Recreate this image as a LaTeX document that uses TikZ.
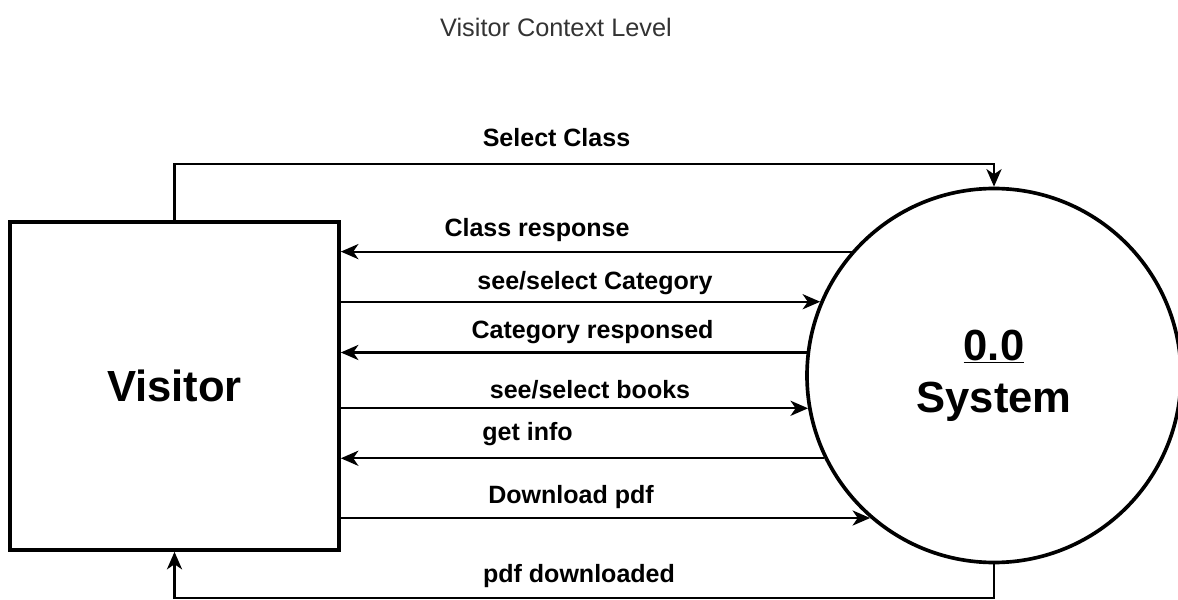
\documentclass[tikz,border=0pt]{standalone}
\usepackage{fontspec}
\setmainfont{Liberation Sans}
\usetikzlibrary{arrows.meta,positioning}

\begin{document}
\begin{tikzpicture}[
  flow/.style={line width=1.5pt,-{Stealth[length=4.4mm,width=3.8mm,inset=1.3mm]}},
  lbl/.style={font=\fontsize{17.8}{20}\selectfont\bfseries,anchor=base,inner sep=0pt}]
\useasboundingbox (0,0) rectangle (29.45,14.975);
\node[font=\fontsize{18}{21}\selectfont,text=black!80,anchor=base,inner sep=0pt] (title) at (13.9,14.07) {Visitor Context Level};
% external entity and process
\node[draw,line width=2.6pt,minimum width=8.225cm,minimum height=8.2cm,font=\fontsize{31}{36}\selectfont\bfseries] (visitor) at (4.3625,5.325) {Visitor};
\node[draw,circle,line width=2.6pt,minimum size=9.35cm,inner sep=0pt,align=center,font=\fontsize{31}{37}\selectfont\bfseries] (sys) at (24.85,5.5875) {\underline{0.0}\\System};
\coordinate (topbend) at (24.85,10.875);
\coordinate (botbend) at (24.85,0.025);
% data flows
\draw[flow] (visitor.north) |- (topbend) -- (sys.north);
\draw[flow] (sys.139.5) -- (sys.139.5 -| visitor.east);
\draw[flow] (visitor.east |- sys.157.5) -- (sys.157.5);
\draw[flow] (sys.173.7) -- (sys.173.7 -| visitor.east);
\draw[flow] (visitor.east |- sys.190.3) -- (sys.190.3);
\draw[flow] (sys.206.2) -- (sys.206.2 -| visitor.east);
\draw[flow] (visitor.east |- sys.229.2) -- (sys.229.2);
\draw[flow] (sys.south) -- (botbend) -| (visitor.south);
% flow labels
\node[lbl] (lselclass) at (13.9125,11.3) {Select Class};
\node[lbl] (lclassresp) at (13.425,9.05) {Class response};
\node[lbl] (lselcat) at (14.875,7.725) {see/select Category};
\node[lbl] (lcatresp) at (14.8125,6.525) {Category responsed};
\node[lbl] (lselbooks) at (14.75,5.025) {see/select books};
\node[lbl] (linfo) at (13.1875,3.975) {get info};
\node[lbl] (ldownload) at (14.275,2.4) {Download pdf};
\node[lbl] (ldownloaded) at (14.475,0.425) {pdf downloaded};
\end{tikzpicture}
\end{document}
